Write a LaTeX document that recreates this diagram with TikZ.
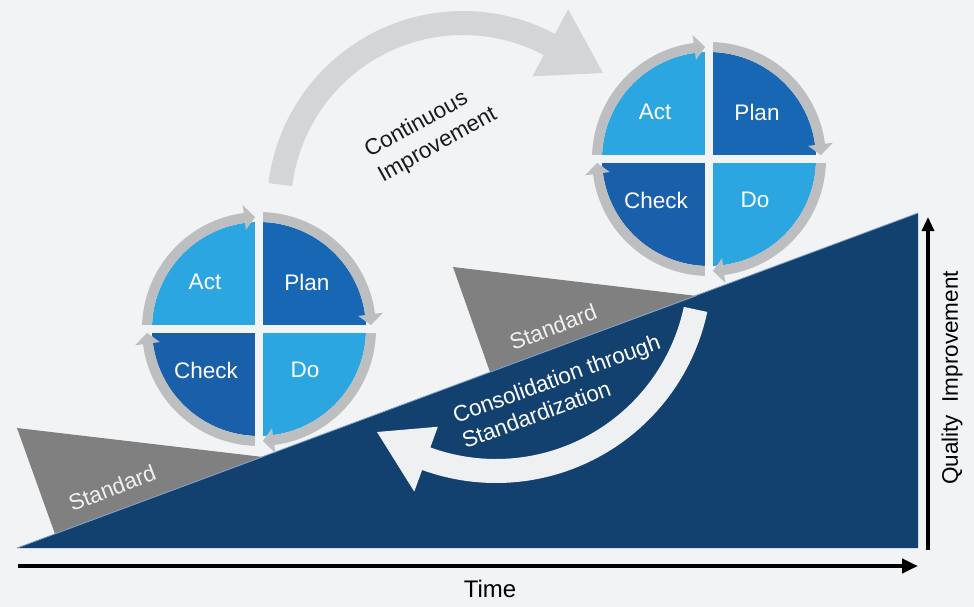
\documentclass[tikz,border=0pt]{standalone}
\usepackage{fontspec}
\setmainfont{Liberation Sans}
\usetikzlibrary{arrows.meta,calc}
\definecolor{bgc}{HTML}{F2F3F5}
\definecolor{rampc}{HTML}{13416F}
\definecolor{graytri}{HTML}{808080}
\definecolor{ringc}{HTML}{BCBEC0}
\definecolor{contc}{HTML}{D3D5D7}
\definecolor{consc}{HTML}{EEF0F2}
\definecolor{lightq}{HTML}{2BA6E1}
\definecolor{darkq}{HTML}{1767B5}
\definecolor{darkqb}{HTML}{1A5FA9}
\definecolor{txtc}{HTML}{1A1A1A}
\definecolor{edgec}{HTML}{7FA3CC}
\tikzset{
  qlabel/.style={text=white, font=\fontsize{22.5}{26}\selectfont, inner sep=0pt},
  stdlabel/.style={text=white!94!black, font=\fontsize{22.5}{26}\selectfont, rotate=21, inner sep=0pt},
  ringline/.style={draw=ringc, line width=10pt},
  axisline/.style={draw=black},
  pics/pdca/.style={code={
    \fill[lightq] (0,0) -- (180:107) arc[start angle=180,end angle=270,radius=107] -- cycle;
    \fill[darkq]  (0,0) -- (270:107) arc[start angle=270,end angle=360,radius=107] -- cycle;
    \fill[lightq] (0,0) -- (0:107) arc[start angle=0,end angle=90,radius=107] -- cycle;
    \fill[darkqb] (0,0) -- (90:107) arc[start angle=90,end angle=180,radius=107] -- cycle;
    \foreach \a in {0,90,180,270}{
      \draw[ringline] ({\a+1}:112) arc[start angle={\a+1}, end angle={\a+83}, radius=112];
    }
    \fill[bgc] (-4,-119) rectangle (4,119);
    \fill[bgc] (-119,-4) rectangle (119,4);
    \foreach \a in {0,90,180,270}{
      \fill[ringc] ({\a+82.5}:100) -- ({\a+88}:112) -- ({\a+82.5}:125) -- cycle;
    }
    \node[qlabel] (-act)   at (-54,-47) {Act};
    \node[qlabel] (-plan)  at (48,-47)  {Plan};
    \node[qlabel] (-check) at (-53,41)  {Check};
    \node[qlabel] (-do)    at (46,41)   {Do};
  }}
}
\begin{document}
\begin{tikzpicture}[x=1pt,y=-1pt]
\useasboundingbox (0,0) rectangle (974,607);
\fill[bgc] (0,0) rectangle (974,607);

% continuous improvement arrow
\fill[contc] ([shift={(463,207)}]-173:196) arc[start angle=-173,end angle=-62,radius=196]
  -- ([shift={(463,207)}]-62:224) -- (603,73) -- ([shift={(463,207)}]-62:148)
  -- ([shift={(463,207)}]-62:172) arc[start angle=-62,end angle=-173,radius=172] -- cycle;
\node[text=txtc, font=\fontsize{22.5}{28}\selectfont, rotate=29, align=left, inner sep=0pt]
  (cont) at (431,133) {Continuous\\Improvement};

% ramp
\fill[rampc] (17,548) -- (918,213) -- (918,548) -- cycle;

% standard wedges
\fill[graytri] (17,428) -- (263,457) -- (55,534) -- cycle;
\fill[graytri] (453,267) -- (697,296) -- (490,372) -- cycle;
\draw[edgec, line width=0.8pt] (17,548) -- (918,213);
\node[stdlabel] (std1) at (112,488) {Standard};
\node[stdlabel] (std2) at (553,327) {Standard};

% consolidation arrow
\fill[consc] ([shift={(496,267)}]12:216) arc[start angle=12,end angle=110,radius=216]
  -- ([shift={(496,267)}]110:239) -- (377,432) -- ([shift={(496,267)}]110:170)
  -- ([shift={(496,267)}]110:192) arc[start angle=110,end angle=12,radius=192] -- cycle;
\node[text=white, font=\fontsize{22.5}{27}\selectfont, rotate=20, align=left, inner sep=0pt]
  (cons) at (561,391) {Consolidation through\\Standardization};

% PDCA circles
\pic (L) at (259,329) {pdca};
\pic (R) at (709,159) {pdca};

% axes
\coordinate (h0) at (18,566);
\coordinate (h1) at (918,566);
\coordinate (v0) at (928,550);
\coordinate (v1) at (928,217);
\draw[axisline, line width=4.5pt, -{Triangle[length=16pt,width=14pt]}] (h0) -- (h1);
\draw[axisline, line width=3.2pt, -{Triangle[length=14pt,width=12pt]}] (v0) -- (v1);
\node[text=black, font=\fontsize{24}{28}\selectfont, inner sep=0pt] (time) at (490,589) {Time};
\node[text=black, font=\fontsize{22.5}{26}\selectfont, rotate=90, inner sep=0pt] (qual) at (952,378) {Quality\ \ Improvement};
\end{tikzpicture}
\end{document}
